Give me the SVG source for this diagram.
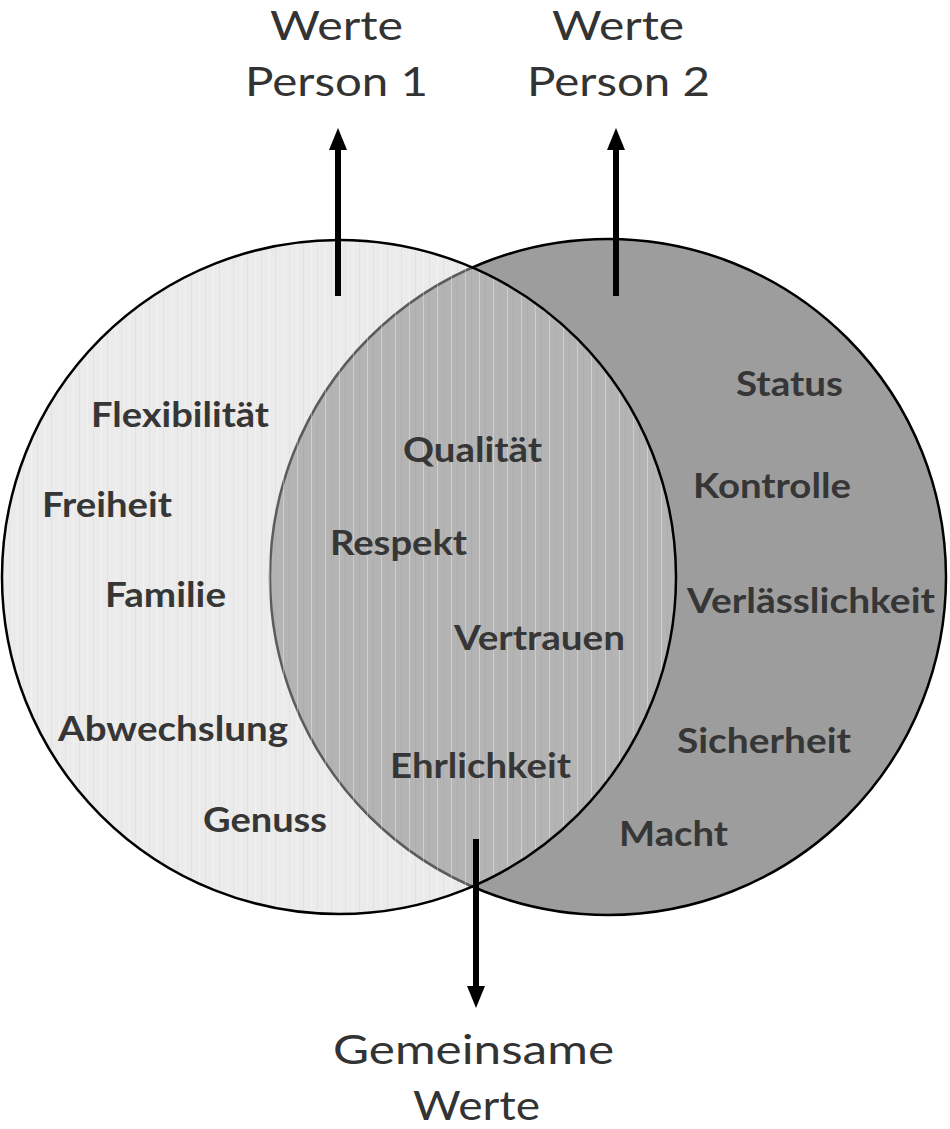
<svg xmlns="http://www.w3.org/2000/svg" width="950" height="1129" viewBox="0 0 950 1129">
  <style>
    .title { font-family: Lato, "Open Sans", "Liberation Sans", sans-serif; font-size: 40px; fill: #333333; }
    .lbl { font-family: Lato, "Open Sans", "Liberation Sans", sans-serif; font-size: 34px; font-weight: bold; fill: #363636; }
    .arrow { stroke: #000000; stroke-width: 6; fill: none; }
  </style>
  <defs>
    <marker id="head" markerWidth="10" markerHeight="10" refX="0" refY="5" orient="auto" markerUnits="userSpaceOnUse" viewBox="0 0 10 10" overflow="visible">
      <path d="M0,-9 L22,0 L0,9 Z" transform="translate(0,5)" fill="#000000"/>
    </marker>
    <pattern id="stripes" width="14" height="10" patternUnits="userSpaceOnUse">
      <rect x="3" y="0" width="1" height="10" fill="#ffffff" opacity="0.35"/>
      <rect x="9" y="0" width="1" height="10" fill="#000000" opacity="0.04"/>
    </pattern>
  </defs>

  <g id="circle-person2">
    <circle cx="608" cy="577" r="338" fill="#9d9d9d" stroke="#000000" stroke-width="2.5"/>
  </g>
  <g id="circle-person1">
    <circle cx="339" cy="577" r="337" fill="#d1d1d1" fill-opacity="0.44" stroke="none"/>
    <circle cx="339" cy="577" r="337" fill="url(#stripes)" stroke="#000000" stroke-width="2.5"/>
  </g>

  <g id="connectors">
    <line class="arrow" x1="338" y1="296" x2="338" y2="150" marker-end="url(#head)"/>
    <line class="arrow" x1="616" y1="296" x2="616" y2="150" marker-end="url(#head)"/>
    <line class="arrow" x1="476" y1="839" x2="476" y2="986" marker-end="url(#head)"/>
  </g>

  <g id="label-person1">
    <text class="title" x="270" y="40" textLength="133" lengthAdjust="spacingAndGlyphs">Werte</text>
    <text class="title" x="245" y="96" textLength="183" lengthAdjust="spacingAndGlyphs">Person 1</text>
  </g>
  <g id="label-person2">
    <text class="title" x="552" y="40" textLength="132" lengthAdjust="spacingAndGlyphs">Werte</text>
    <text class="title" x="527" y="96" textLength="183" lengthAdjust="spacingAndGlyphs">Person 2</text>
  </g>
  <g id="label-common">
    <text class="title" x="333" y="1064" textLength="281" lengthAdjust="spacingAndGlyphs">Gemeinsame</text>
    <text class="title" x="413" y="1120" textLength="127" lengthAdjust="spacingAndGlyphs">Werte</text>
  </g>

  <g id="values-person1">
    <text class="lbl" x="91" y="427" textLength="178" lengthAdjust="spacingAndGlyphs">Flexibilität</text>
    <text class="lbl" x="42" y="517" textLength="130" lengthAdjust="spacingAndGlyphs">Freiheit</text>
    <text class="lbl" x="105" y="607" textLength="121" lengthAdjust="spacingAndGlyphs">Familie</text>
    <text class="lbl" x="58" y="741" textLength="230" lengthAdjust="spacingAndGlyphs">Abwechslung</text>
    <text class="lbl" x="203" y="832" textLength="124" lengthAdjust="spacingAndGlyphs">Genuss</text>
  </g>
  <g id="values-common">
    <text class="lbl" x="403" y="462" textLength="139" lengthAdjust="spacingAndGlyphs">Qualität</text>
    <text class="lbl" x="330" y="555" textLength="137" lengthAdjust="spacingAndGlyphs">Respekt</text>
    <text class="lbl" x="454" y="650" textLength="171" lengthAdjust="spacingAndGlyphs">Vertrauen</text>
    <text class="lbl" x="390" y="778" textLength="181" lengthAdjust="spacingAndGlyphs">Ehrlichkeit</text>
  </g>
  <g id="values-person2">
    <text class="lbl" x="736" y="396" textLength="107" lengthAdjust="spacingAndGlyphs">Status</text>
    <text class="lbl" x="693" y="498" textLength="158" lengthAdjust="spacingAndGlyphs">Kontrolle</text>
    <text class="lbl" x="687" y="613" textLength="248" lengthAdjust="spacingAndGlyphs">Verlässlichkeit</text>
    <text class="lbl" x="677" y="753" textLength="174" lengthAdjust="spacingAndGlyphs">Sicherheit</text>
    <text class="lbl" x="619" y="846" textLength="109" lengthAdjust="spacingAndGlyphs">Macht</text>
  </g>
</svg>
